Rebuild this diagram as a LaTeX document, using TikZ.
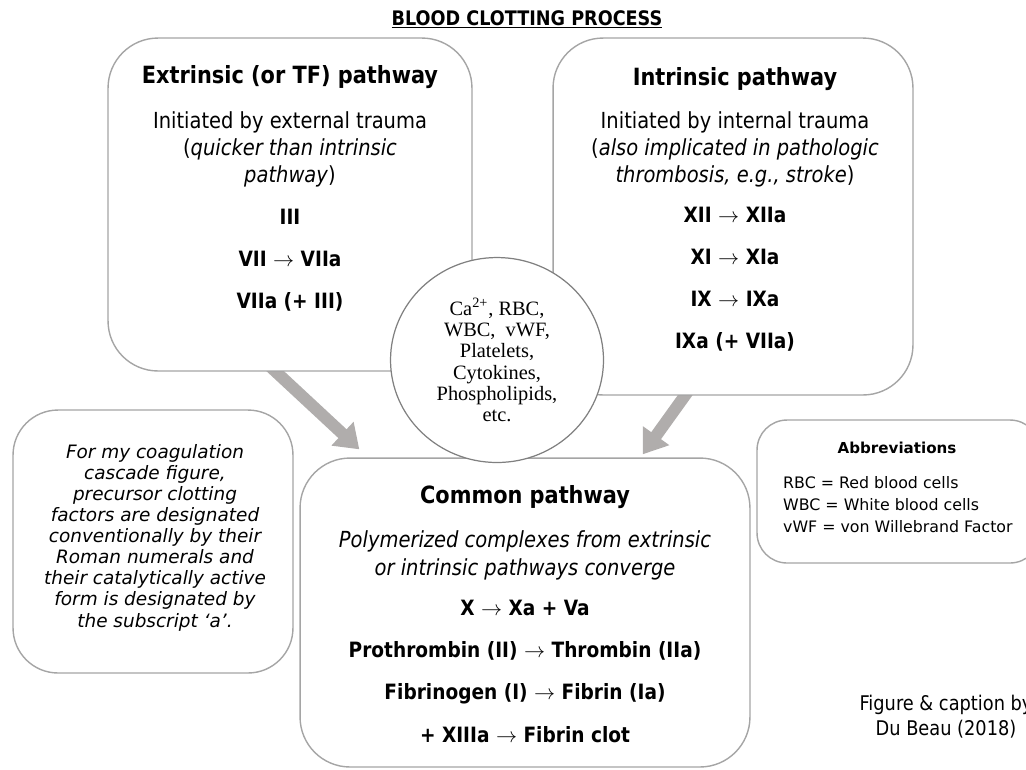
\documentclass[tikz,border=0pt]{standalone}
\usepackage{fontspec}
\setmainfont{DejaVu Sans}[FakeStretch=0.88]
\newfontfamily\notefont{DejaVu Sans}
\newfontfamily\circfont{Liberation Serif}
\usetikzlibrary{arrows.meta, shapes.geometric, backgrounds}
\definecolor{arrowgray}{RGB}{176,173,172}
\definecolor{boxgray}{RGB}{165,165,165}
\newcommand{\goesto}{$\rightarrow$}

\begin{document}
\begin{tikzpicture}[x=0.02cm, y=-0.02cm]
% Setup the styles for boxes, texts and arrows
% (multi-line nodes sit on the baseline of their last line)
\tikzset{box/.style={draw=boxgray, line width=0.8pt, fill=white, rounded corners=1cm},
	head/.style={anchor=base, font=\fontsize{13.5}{16}\selectfont\bfseries},
	body/.style={anchor=base, align=center, font=\fontsize{12.6}{15.3}\selectfont},
	factor/.style={anchor=base, align=center, font=\fontsize{12}{23.8}\selectfont\bfseries},
	flow/.style={draw=arrowgray, line width=0.24cm, -{Triangle[width=0.62cm, length=0.46cm]}},
	mix/.style={ellipse, draw=gray, line width=0.7pt, fill=white,
		minimum width=4.26cm, minimum height=4.1cm, inner sep=0pt,
		align=center, font=\circfont\fontsize{11.6}{12.1}\selectfont}}
\useasboundingbox (0,0) rectangle (1026,769);
\clip (0,0) rectangle (1026,769);

% Title
\node[anchor=base, font=\fontsize{11.4}{13}\selectfont\bfseries] (title) at (527,25)
	{\underline{BLOOD CLOTTING PROCESS}};

% Draw the boxes
\node[box, minimum width=7.28cm, minimum height=6.66cm] (ext) at (290,204.5) {};
\node[box, minimum width=7.2cm, minimum height=7.14cm] (int) at (733,216.5) {};
\node[box, minimum width=9cm, minimum height=6.18cm] (common) at (525,612.5) {};
\node[box, rounded corners=0.9cm, minimum width=5.6cm, minimum height=5.26cm] (note) at (153,541.5) {};
\node[box, rounded corners=0.6cm, minimum width=5.66cm, minimum height=2.86cm] (abbr) at (898.5,491.5) {};

% Extrinsic pathway
\node[head] (ext-head) at (290,83) {Extrinsic (or TF) pathway};
\node[body] (ext-body) at (290,182) {Initiated by external trauma\\
	(\textit{quicker than intrinsic}\\ \textit{pathway})};
\node[factor] (ext-steps) at (290,308) {III\\VII \goesto{} VIIa\\VIIa (+ III)};

% Intrinsic pathway
\node[head] (int-head) at (735,85) {Intrinsic pathway};
\node[body] (int-body) at (735,182) {Initiated by internal trauma\\
	(\textit{also implicated in pathologic}\\ \textit{thrombosis, e.g., stroke})};
\node[factor] (int-steps) at (735,348) {XII \goesto{} XIIa\\XI \goesto{} XIa\\IX \goesto{} IXa\\IXa (+ VIIa)};

% Common pathway
\node[head] (common-head) at (525,503) {Common pathway};
\node[body, font=\fontsize{12.6}{15.9}\selectfont\itshape] (common-body) at (525,575)
	{Polymerized complexes from extrinsic\\or intrinsic pathways converge};
\node[factor, font=\fontsize{12}{24}\selectfont\bfseries] (common-steps) at (525,742)
	{X \goesto{} Xa + Va\\Prothrombin (II) \goesto{} Thrombin (IIa)\\
	Fibrinogen (I) \goesto{} Fibrin (Ia)\\+ XIIIa \goesto{} Fibrin clot};

% Note and abbreviations
\node[anchor=base, align=center, font=\notefont\itshape\fontsize{10.5}{12}\selectfont] (note-text) at (155,627)
	{For my coagulation\\cascade figure,\\precursor clotting\\factors are designated\\
	conventionally by their\\Roman numerals and\\their catalytically active\\
	form is designated by\\the subscript ‘a’.};
\node[anchor=base, font=\notefont\bfseries\fontsize{8.6}{10}\selectfont] (abbr-head) at (897,453) {Abbreviations};
\node[anchor=base west, align=left, font=\notefont\fontsize{9}{12.5}\selectfont] (abbr-list) at (777,532)
	{RBC = Red blood cells\\WBC = White blood cells\\vWF = von Willebrand Factor};

% Caption
\node[anchor=base, align=center, font=\fontsize{11.5}{14}\selectfont] (caption) at (946,735)
	{Figure \& caption by\\Du Beau (2018)};

% Connect the pathways with arrows
\begin{scope}[on background layer]
\draw[flow] ([shift={(-0.5cm,0.2cm)}]ext.south) -- ([shift={(1.2cm,0.16cm)}]common.north west);
\draw[flow] ([shift={(-0.82cm,0.2cm)}]int.south) -- ([shift={(-2.16cm,0.06cm)}]common.north east);
\end{scope}

% Factors shared by both pathways
\node[mix] (mix) at (497,360) {Ca\textsuperscript{2+}, RBC,\\WBC,~ vWF,\\Platelets,\\Cytokines,\\Phospholipids,\\etc.};
\end{tikzpicture}
\end{document}
